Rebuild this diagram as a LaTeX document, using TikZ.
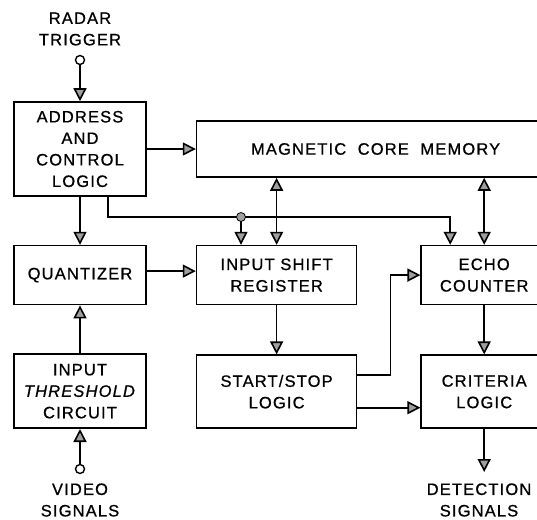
\documentclass[tikz,border=0pt]{standalone}
\usepackage{fontspec}
\setmainfont{Liberation Sans}[LetterSpace=7,FakeBold=0.8]
\usetikzlibrary{positioning,arrows.meta,calc}

\begin{document}
\begin{tikzpicture}[x=1pt,y=-1pt,
    >={Triangle[length=13pt,width=13pt,fill=gray!75]},
    line width=1.6pt,
    block/.style={rectangle,draw,align=center,inner sep=0pt,
      font=\fontsize{16.5}{21.5}\selectfont},
    caption/.style={align=center,inner sep=0pt,
      font=\fontsize{16.5}{21.5}\selectfont},
    jack/.style={circle,draw,minimum size=9pt,inner sep=0pt,line width=1.4pt}]
    \useasboundingbox (0,0) rectangle (537,519);

    % left column
    \node[block,minimum width=132pt,minimum height=94pt] (addr) at (80,149) {ADDRESS\\AND\\CONTROL\\LOGIC};
    \node[block,minimum width=132pt,minimum height=59pt,below=48pt of addr] (quant) {QUANTIZER};
    \node[block,minimum width=132pt,minimum height=74pt,below=48pt of quant] (thresh) {INPUT\\\textit{THRESHOLD}\\CIRCUIT};

    % memory and middle column
    \node[block,minimum width=358pt,minimum height=56pt,right=49pt of addr] (mcm) {MAGNETIC\hspace{0.7em}CORE\hspace{0.7em}MEMORY};
    \node[block,minimum width=160pt,minimum height=59pt,right=49pt of quant] (isr) {INPUT SHIFT\\REGISTER};
    \node[block,minimum width=160pt,minimum height=73pt,below=49pt of isr] (ss) {START/STOP\\LOGIC};

    % right column
    \node[block,minimum width=126pt,minimum height=59pt,right=63pt of isr] (echo) {ECHO\\COUNTER};
    \node[block,minimum width=126pt,minimum height=73pt,below=49pt of echo] (crit) {CRITERIA\\LOGIC};

    % inputs and outputs
    \node[caption] (radar) at (80,29) {RADAR\\TRIGGER};
    \node[jack] (radarin) at (80,60) {};
    \node[jack] (videoin) at (80,469) {};
    \node[caption] (video) at (80,500) {VIDEO\\SIGNALS};
    \node[caption] (detect) at (479,500) {DETECTION\\SIGNALS};
    \coordinate (detout) at (482,472);
    \coordinate (tap) at (241,217);

    \draw[->] (radarin) -- (addr);
    \draw[->] (videoin) -- (thresh);
    \draw[->] (addr) -- (mcm);
    \draw[->] (addr) -- (quant);
    \draw[->] (thresh) -- (quant);
    \draw[->] ([yshift=4pt]quant.east) -- ([yshift=4pt]isr.west);
    \draw[<->] (isr.north |- mcm.south) -- (isr.north);
    \draw[<->] (echo.north |- mcm.south) -- (echo.north);
    \draw[->] ([xshift=28pt]addr.south) |- (tap) -| ([xshift=-34pt]echo.north);
    \draw[->] (tap) -- (tap |- isr.north);
    \filldraw[fill=gray!75,line width=0.8pt] (tap) circle (4.5pt);
    \draw[->] (isr) -- (ss);
    \draw[->] ([yshift=17pt]ss.east) -- ++(33,0) |- (echo.west);
    \draw[->] ([yshift=-16pt]ss.east) -- ([yshift=-16pt]crit.west);
    \draw[->] (echo) -- (crit);
    \draw[->] (crit) -- (crit.south |- detout);
  \end{tikzpicture}
\end{document}
